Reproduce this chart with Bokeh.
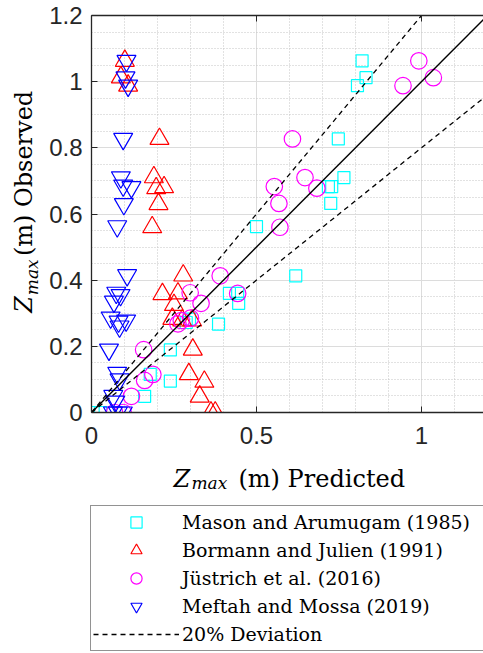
import numpy as np
from bokeh.plotting import figure
from bokeh.layouts import column, row
from bokeh.models import Range1d, FixedTicker, LinearAxis, Legend, LegendItem
from bokeh.core.properties import value
from bokeh.embed import file_html
from bokeh.resources import INLINE

# Mason and Arumugam (1985): predicted vs observed Zmax (m)
mason_pred = [0.820, 0.832, 0.806, 0.748, 0.765, 0.718, 0.728, 0.725, 0.500, 0.619, 0.418,
              0.443, 0.446, 0.385, 0.287, 0.297, 0.239, 0.178, 0.239, 0.161, 0.005, 0.027]
mason_obs = [1.063, 1.012, 0.988, 0.827, 0.710, 0.683, 0.683, 0.632, 0.562, 0.413, 0.360,
             0.360, 0.330, 0.267, 0.272, 0.282, 0.189, 0.115, 0.095, 0.049, 0.000, 0.000]

# Bormann and Julien (1991)
bormann_pred = [0.101, 0.089, 0.111, 0.206, 0.189, 0.220, 0.196, 0.203, 0.184, 0.278, 0.215,
                0.262, 0.250, 0.245, 0.275, 0.305, 0.307, 0.295, 0.342, 0.328, 0.362, 0.375]
bormann_obs = [1.063, 1.013, 0.988, 0.827, 0.711, 0.681, 0.678, 0.630, 0.560, 0.414, 0.358,
               0.360, 0.325, 0.283, 0.278, 0.278, 0.190, 0.116, 0.093, 0.048, 0.000, 0.000]

# Jüstrich et al. (2016)
justrich_pred = [0.992, 1.036, 0.944, 0.609, 0.647, 0.554, 0.683, 0.568, 0.571, 0.390, 0.443,
                 0.299, 0.332, 0.272, 0.262, 0.300, 0.158, 0.186, 0.161, 0.121, 0.070, 0.096]
justrich_obs = [1.063, 1.012, 0.988, 0.827, 0.710, 0.683, 0.678, 0.632, 0.560, 0.413, 0.360,
                0.362, 0.330, 0.278, 0.268, 0.285, 0.190, 0.115, 0.097, 0.049, 0.000, 0.000]

# Meftah and Mossa (2019)
meftah_pred = [0.106, 0.103, 0.111, 0.096, 0.089, 0.096, 0.121, 0.098, 0.078, 0.108, 0.075,
               0.088, 0.068, 0.058, 0.082, 0.105, 0.085, 0.053, 0.078, 0.085, 0.066, 0.072,
               0.065, 0.080, 0.095]
meftah_obs = [1.063, 1.013, 0.988, 0.827, 0.711, 0.686, 0.681, 0.630, 0.563, 0.415, 0.362,
              0.355, 0.335, 0.287, 0.275, 0.278, 0.260, 0.190, 0.120, 0.100, 0.050, 0.033,
              0.000, 0.000, 0.000]

# perfect agreement and +/-20 % deviation lines
ref_x = [0.0, 1.2]
deviation = 0.2

x_ticks = [0, 0.5, 1]
x_tick_labels = ["0", "0.5", "1"]
y_ticks = [0, 0.2, 0.4, 0.6, 0.8, 1, 1.2]
y_tick_labels = ["0", "0.2", "0.4", "0.6", "0.8", "1", "1.2"]
x_minor = [round(v, 2) for v in np.arange(0.1, 1.2, 0.1) if round(v, 2) not in (0.5, 1.0)]
y_minor = [round(v, 2) for v in np.arange(0.05, 1.2, 0.05)
           if abs(v / 0.2 - round(v / 0.2)) > 1e-6]

series = [
    ("Mason and Arumugam (1985)", mason_pred, mason_obs, "square", 12, "#00ffff"),
    ("Bormann and Julien (1991)", bormann_pred, bormann_obs, "triangle", 19, "#ff0000"),
    ("Jüstrich et al. (2016)", justrich_pred, justrich_obs, "circle", 16.5, "#ff00ff"),
    ("Meftah and Mossa (2019)", meftah_pred, meftah_obs, "inverted_triangle", 19, "#0000ff"),
]

AX = "#262626"
SERIF = "DejaVu Serif"
SANS = "Liberation Sans"
DASH = "5 4"


def blank_panel(width, height):
    """Axis-free figure whose frame fills its canvas; data units equal pixels."""
    f = figure(width=width, height=height, output_backend="svg", toolbar_location=None,
               x_axis_type=None, y_axis_type=None,
               x_range=Range1d(0, width), y_range=Range1d(0, height), min_border=0)
    f.outline_line_color = None
    f.background_fill_color = "white"
    f.border_fill_color = "white"
    return f


# ---------------- main scatter plot ----------------
p = figure(width=437, height=455, output_backend="svg", toolbar_location=None,
           x_range=Range1d(0, 1.188), y_range=Range1d(0, 1.2),
           min_border_left=44, min_border_right=0, min_border_top=15, min_border_bottom=43)
p.outline_line_color = None
p.background_fill_color = "white"
p.border_fill_color = "white"

for ax, ticks, labels, minor in ((p.xaxis[0], x_ticks, x_tick_labels, x_minor),
                                 (p.yaxis[0], y_ticks, y_tick_labels, y_minor)):
    ax.ticker = FixedTicker(ticks=ticks, minor_ticks=minor)
    ax.major_label_overrides = dict(zip(ticks, labels))
    ax.major_label_text_font = SANS
    ax.major_label_text_font_size = "24px"
    ax.major_label_text_color = AX
    ax.major_tick_in = 6
    ax.major_tick_out = 0
    ax.minor_tick_in = 0
    ax.minor_tick_out = 0
    ax.axis_line_color = AX
    ax.axis_line_width = 1.3
    ax.major_tick_line_color = AX
p.xaxis.major_label_standoff = 14
p.yaxis.major_label_standoff = 9

top_axis = LinearAxis(ticker=FixedTicker(ticks=x_ticks),
                      major_label_overrides={t: "" for t in x_ticks},
                      major_label_text_font_size="1px", major_label_standoff=0,
                      major_tick_in=6, major_tick_out=0, minor_tick_in=0, minor_tick_out=0,
                      axis_line_color=AX, axis_line_width=1.3, major_tick_line_color=AX)
p.add_layout(top_axis, "above")

for g in (p.xgrid[0], p.ygrid[0]):
    g.grid_line_color = "#dcdcdc"
    g.grid_line_width = 1
    g.minor_grid_line_color = "#c4c4c4"
    g.minor_grid_line_dash = "1 2"
    g.minor_grid_line_width = 1

for _, xs, ys, marker, size, color in series:
    p.scatter(xs, ys, marker=marker, size=size, fill_color=None,
              line_color=color, line_width=1.2)

ref_x_arr = np.array(ref_x)
p.line(ref_x_arr, ref_x_arr, line_color="black", line_width=1.4)
p.line(ref_x_arr, (1 + deviation) * ref_x_arr, line_color="black", line_width=1.3, line_dash=DASH)
p.line(ref_x_arr, (1 - deviation) * ref_x_arr, line_color="black", line_width=1.3, line_dash=DASH)


def title_piece(fig, text, x, y, size, style="normal", angle=0.0,
                align="left", baseline="alphabetic"):
    fig.text(x=[x], y=[y], text=[text], angle=angle,
             text_font=value(SERIF), text_font_size=size, text_font_style=style,
             text_color="black", text_baseline=baseline, text_align=align)


# ---------------- y-axis title (left strip), pieces placed by their centres ----------------
yt = blank_panel(46, 455)
up = np.pi / 2
title_piece(yt, "Z", 23.7, 124, "24px", "italic", up, "center", "middle")
title_piece(yt, "max", 31, 155, "17px", "italic", up, "center", "middle")
title_piece(yt, "(m) Observed", 23.7, 274, "24px", "normal", up, "center", "middle")

# ---------------- x-axis title and legend (bottom strip) ----------------
bt = blank_panel(483, 198)
title_piece(bt, "Z", 173, 175, "24px", "italic")
title_piece(bt, "max", 191, 171, "17px", "italic")
title_piece(bt, "(m) Predicted", 238, 175, "24px")

nan = float("nan")
items = []
for label, _, _, marker, size, color in series:
    proxy = bt.scatter([nan], [nan], marker=marker, size=size, fill_color=None,
                       line_color=color, line_width=1.2)
    items.append(LegendItem(label=label, renderers=[proxy]))
dev_proxy = bt.line([nan, nan], [nan, nan], line_color="black", line_width=1.3, line_dash=DASH)
items.append(LegendItem(label="20% Deviation", renderers=[dev_proxy]))

legend = Legend(items=items, location=(90, 2), orientation="vertical",
                padding=2, spacing=0, margin=0,
                glyph_height=28, glyph_width=86, label_standoff=3, label_width=320,
                label_height=20, label_text_font=SERIF, label_text_font_size="19px",
                label_text_color="black", border_line_color=AX, border_line_width=1.2,
                background_fill_color="white", background_fill_alpha=1.0)
bt.add_layout(legend)

layout = column(row(yt, p), bt)
open("out.html", "w").write(file_html(layout, INLINE))
